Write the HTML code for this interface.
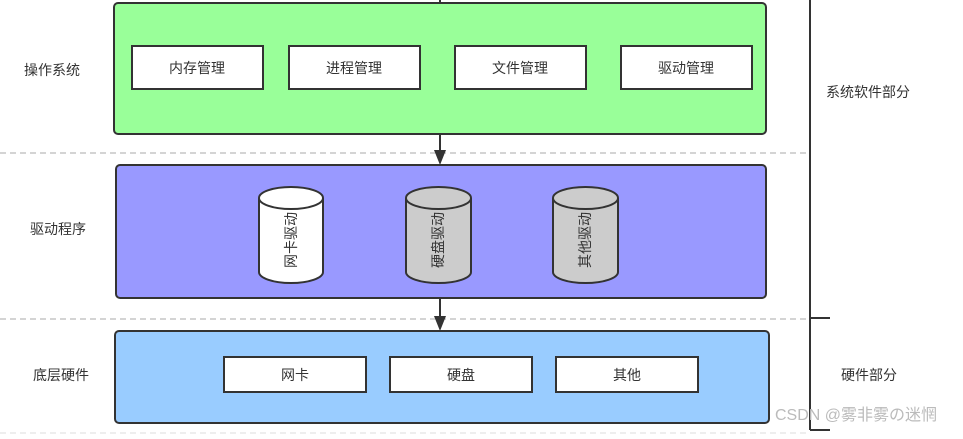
<!DOCTYPE html>
<html><head><meta charset="utf-8"><style>
body{margin:0;background:#fff;width:963px;height:434px;overflow:hidden}
</style></head><body>
<svg width="963" height="434" xmlns="http://www.w3.org/2000/svg" font-family="Liberation Sans, Noto Sans CJK SC, sans-serif" font-size="14" fill="#333">
<g stroke="#aaa" stroke-dasharray="6,4" stroke-width="1">
<line x1="0" y1="153" x2="810" y2="153"/>
<line x1="0" y1="319" x2="810" y2="319"/>
<line x1="0" y1="433" x2="810" y2="433" stroke="#ddd"/>
</g>
<line x1="440" y1="0" x2="440" y2="3" stroke="#333" stroke-width="2"/>
<rect x="114" y="3" width="652" height="131" rx="4" fill="#99ff99" stroke="#333" stroke-width="2"/>
<rect x="116" y="165" width="650" height="133" rx="4" fill="#9999ff" stroke="#333" stroke-width="2"/>
<rect x="115" y="331" width="654" height="92" rx="4" fill="#99ccff" stroke="#333" stroke-width="2"/>
<g stroke="#333" stroke-width="2" fill="#fff">
<rect x="132" y="46" width="131" height="43"/>
<rect x="289" y="46" width="131" height="43"/>
<rect x="455" y="46" width="131" height="43"/>
<rect x="621" y="46" width="131" height="43"/>
<rect x="224" y="357" width="142" height="35"/>
<rect x="390" y="357" width="142" height="35"/>
<rect x="556" y="357" width="142" height="35"/>
</g>
<g stroke="#333" stroke-width="2">
<path d="M259 198 V272 A32 11 0 0 0 323 272 V198 A32 11 0 0 0 259 198 Z" fill="#fff"/>
<path d="M259 198 A32 11 0 0 0 323 198" fill="none"/>
<path d="M406 198 V272 A32.5 11 0 0 0 471 272 V198 A32.5 11 0 0 0 406 198 Z" fill="#ccc"/>
<path d="M406 198 A32.5 11 0 0 0 471 198" fill="none"/>
<path d="M553 198 V272 A32.5 11 0 0 0 618 272 V198 A32.5 11 0 0 0 553 198 Z" fill="#ccc"/>
<path d="M553 198 A32.5 11 0 0 0 618 198" fill="none"/>
</g>
<g stroke="#333" stroke-width="2">
<line x1="440" y1="134" x2="440" y2="152"/>
<line x1="440" y1="298" x2="440" y2="318"/>
<line x1="810" y1="0" x2="810" y2="430"/>
<line x1="810" y1="318" x2="830" y2="318"/>
<line x1="810" y1="430" x2="830" y2="430"/>
</g>
<polygon points="434,150 446,150 440,165" fill="#333"/>
<polygon points="434,316 446,316 440,331" fill="#333"/>
<g text-anchor="middle" dominant-baseline="central">
<text x="52" y="70">操作系统</text>
<text x="58" y="229">驱动程序</text>
<text x="61" y="375">底层硬件</text>
<text x="197" y="68">内存管理</text>
<text x="354" y="68">进程管理</text>
<text x="520" y="68">文件管理</text>
<text x="686" y="68">驱动管理</text>
<text x="295" y="375">网卡</text>
<text x="461" y="375">硬盘</text>
<text x="627" y="375">其他</text>
<text x="868" y="92">系统软件部分</text>
<text x="869" y="375">硬件部分</text>
<text transform="translate(291,240) rotate(-90)">网卡驱动</text>
<text transform="translate(438,240) rotate(-90)">硬盘驱动</text>
<text transform="translate(585,240) rotate(-90)">其他驱动</text>
</g>
<text x="775" y="420" fill="#bbb" font-size="16">CSDN @雾非雾の迷惘</text>
</svg>
</body></html>
